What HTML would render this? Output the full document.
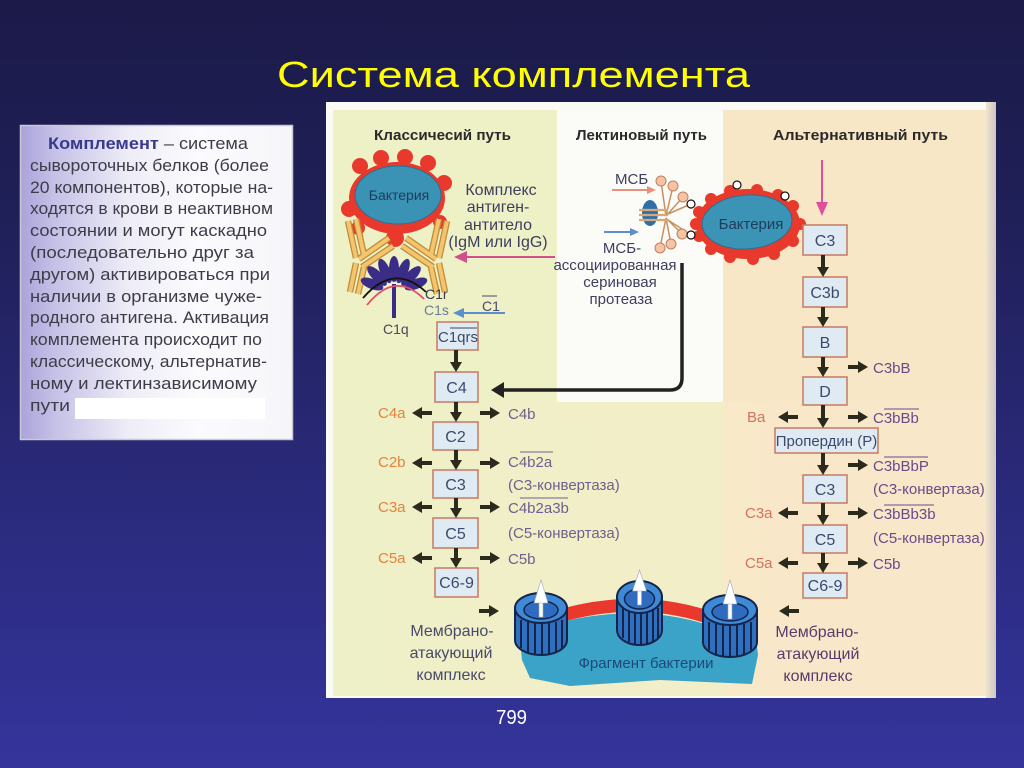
<!DOCTYPE html>
<html><head><meta charset="utf-8">
<style>
html,body{margin:0;padding:0;}
body{width:1024px;height:768px;overflow:hidden;background:linear-gradient(to bottom,#1b1a48 0%,#20205a 30%,#2a2a7c 65%,#34349c 100%);}
svg{display:block;font-family:"Liberation Sans","DejaVu Sans",sans-serif;}
</style></head><body>
<svg width="1024" height="768" viewBox="0 0 1024 768" xmlns="http://www.w3.org/2000/svg">
<defs>
<linearGradient id="boxg" x1="0" y1="0" x2="1" y2="0">
<stop offset="0" stop-color="#aaa2da"/><stop offset="0.12" stop-color="#c4bfe6"/><stop offset="0.4" stop-color="#eeedf7"/><stop offset="0.65" stop-color="#fbfbfd"/><stop offset="1" stop-color="#f6f6fa"/>
</linearGradient>
<linearGradient id="botg" x1="0" y1="0" x2="1" y2="0">
<stop offset="0" stop-color="#eef0c8"/><stop offset="0.55" stop-color="#f2eec8"/><stop offset="1" stop-color="#f8e8c8"/>
</linearGradient>
<linearGradient id="edge" x1="0" y1="0" x2="1" y2="0">
<stop offset="0" stop-color="#efe4cc"/><stop offset="1" stop-color="#cfc6c4"/>
</linearGradient>
</defs>

<!-- Title -->
<text x="277" y="87" font-size="36" fill="#ffff00" textLength="473" lengthAdjust="spacingAndGlyphs">Система комплемента</text>

<!-- Left text box -->
<rect x="20" y="125" width="273" height="315" fill="url(#boxg)"/>
<rect x="20.5" y="125.5" width="272" height="314" fill="none" stroke="#c9c9d4" stroke-width="1.5"/>
<rect x="75" y="398" width="190" height="21" fill="#ffffff"/>
<g font-size="17" fill="#3d3d48">
<text x="48" y="149" textLength="200" lengthAdjust="spacingAndGlyphs"><tspan font-weight="bold" fill="#3a3a8c">Комплемент</tspan> – система</text>
<text x="30" y="171" textLength="239" lengthAdjust="spacingAndGlyphs">сывороточных белков (более</text>
<text x="30" y="193" textLength="243" lengthAdjust="spacingAndGlyphs">20 компонентов), которые на-</text>
<text x="30" y="214" textLength="243" lengthAdjust="spacingAndGlyphs">ходятся в крови в неактивном</text>
<text x="30" y="236" textLength="237" lengthAdjust="spacingAndGlyphs">состоянии и могут каскадно</text>
<text x="30" y="258" textLength="224" lengthAdjust="spacingAndGlyphs">(последовательно друг за</text>
<text x="30" y="280" textLength="240" lengthAdjust="spacingAndGlyphs">другом) активироваться при</text>
<text x="30" y="302" textLength="232" lengthAdjust="spacingAndGlyphs">наличии в организме чуже-</text>
<text x="30" y="323" textLength="239" lengthAdjust="spacingAndGlyphs">родного антигена. Активация</text>
<text x="30" y="345" textLength="232" lengthAdjust="spacingAndGlyphs">комплемента происходит по</text>
<text x="30" y="367" textLength="237" lengthAdjust="spacingAndGlyphs">классическому, альтернатив-</text>
<text x="30" y="389" textLength="227" lengthAdjust="spacingAndGlyphs">ному и лектинзависимому</text>
<text x="30" y="411" textLength="40" lengthAdjust="spacingAndGlyphs">пути</text>
</g>

<!-- Diagram background -->
<rect x="326" y="102" width="670" height="596" fill="#fbfbf6"/>
<rect x="333" y="110" width="224" height="292" fill="#eef0c6"/>
<rect x="557" y="110" width="166" height="292" fill="#fbfbf7"/>
<rect x="723" y="110" width="263" height="292" fill="#f8e7c6"/>
<rect x="333" y="402" width="653" height="294" fill="url(#botg)"/>
<rect x="723" y="402" width="263" height="294" fill="#f8e8c9" opacity="0.85"/>
<rect x="986" y="102" width="10" height="596" fill="url(#edge)"/>

<!-- Headers -->
<g font-size="15" font-weight="bold" fill="#2a2a2a">
<text x="374" y="140" textLength="137" lengthAdjust="spacingAndGlyphs">Классичесий путь</text>
<text x="576" y="140" textLength="131" lengthAdjust="spacingAndGlyphs">Лектиновый путь</text>
<text x="773" y="140" textLength="175" lengthAdjust="spacingAndGlyphs">Альтернативный путь</text>
</g>

<!-- Classical bacterium -->
<g>
<ellipse cx="397" cy="198" rx="48" ry="36" fill="#e8392c"/>
<g fill="#e8392c">
<circle cx="360" cy="166" r="8"/><circle cx="381" cy="158" r="8"/><circle cx="405" cy="157" r="8"/><circle cx="428" cy="163" r="8"/><circle cx="444" cy="183" r="8"/><circle cx="349" cy="209" r="8"/><circle cx="358" cy="228" r="7"/><circle cx="395" cy="238" r="9"/><circle cx="440" cy="222" r="7"/>
</g>
<ellipse cx="398" cy="195" rx="43" ry="29" fill="#3a92b5" stroke="#2a6f92" stroke-width="1"/>
<text x="399" y="200" font-size="14" fill="#1d3d5a" text-anchor="middle">Бактерия</text>
</g>

<!-- Antibodies -->
<g stroke-linecap="butt">
<g stroke="#c08a3a" stroke-width="6.5">
<line x1="348" y1="221" x2="356" y2="258"/><line x1="356" y1="219" x2="364" y2="255"/>
<line x1="359" y1="259" x2="389" y2="238"/><line x1="362" y1="267" x2="393" y2="246"/>
<line x1="356" y1="263" x2="350" y2="292"/><line x1="364" y1="267" x2="358" y2="294"/>
<line x1="447" y1="221" x2="439" y2="258"/><line x1="439" y1="219" x2="431" y2="255"/>
<line x1="436" y1="259" x2="406" y2="238"/><line x1="433" y1="267" x2="402" y2="246"/>
<line x1="439" y1="263" x2="445" y2="292"/><line x1="431" y1="267" x2="437" y2="294"/>
</g>
<g stroke="#f3c56c" stroke-width="4">
<line x1="348" y1="221" x2="356" y2="258"/><line x1="356" y1="219" x2="364" y2="255"/>
<line x1="359" y1="259" x2="389" y2="238"/><line x1="362" y1="267" x2="393" y2="246"/>
<line x1="356" y1="263" x2="350" y2="292"/><line x1="364" y1="267" x2="358" y2="294"/>
<line x1="447" y1="221" x2="439" y2="258"/><line x1="439" y1="219" x2="431" y2="255"/>
<line x1="436" y1="259" x2="406" y2="238"/><line x1="433" y1="267" x2="402" y2="246"/>
<line x1="439" y1="263" x2="445" y2="292"/><line x1="431" y1="267" x2="437" y2="294"/>
</g>
</g>

<!-- C1 complex -->
<g fill="#3b2d86">
<ellipse cx="394" cy="269" rx="5" ry="13"/>
<ellipse cx="385" cy="271" rx="5" ry="13" transform="rotate(-23 385 271)"/>
<ellipse cx="403" cy="271" rx="5" ry="13" transform="rotate(23 403 271)"/>
<ellipse cx="377" cy="276" rx="5" ry="13" transform="rotate(-45 377 276)"/>
<ellipse cx="411" cy="276" rx="5" ry="13" transform="rotate(45 411 276)"/>
<ellipse cx="372" cy="284" rx="5" ry="12" transform="rotate(-68 372 284)"/>
<ellipse cx="416" cy="284" rx="5" ry="12" transform="rotate(68 416 284)"/>
<rect x="392" y="284" width="4" height="34"/>
</g>
<path d="M363,298 Q394,262 426,292" fill="none" stroke="#111" stroke-width="1.8"/>
<path d="M367,305 Q395,270 424,299" fill="none" stroke="#e0506a" stroke-width="1.8"/>
<g font-size="14">
<text x="425" y="299" fill="#3a3a4a">C1r</text>
<text x="424" y="315" fill="#6a7d9a">C1s</text>
<text x="383" y="334" fill="#4a4a5a">C1q</text>
</g>
<text x="482" y="311" font-size="14" fill="#4a4a6a">C1</text>
<line x1="482" y1="296" x2="497" y2="296" stroke="#4a4a6a" stroke-width="1"/>
<!-- blue arrow C1 -->
<line x1="505" y1="313" x2="462" y2="313" stroke="#5b8fd0" stroke-width="2"/>
<polygon points="464,308 464,318 453,313" fill="#5b8fd0"/>
<!-- pink arrow -->
<line x1="555" y1="257" x2="465" y2="257" stroke="#d0508a" stroke-width="2"/>
<polygon points="467,251 467,263 454,257" fill="#d0508a"/>

<!-- Complex label -->
<g font-size="16" fill="#3e3e5e" text-anchor="middle">
<text x="501" y="195">Комплекс</text>
<text x="498" y="212">антиген-</text>
<text x="498" y="230">антитело</text>
<text x="498" y="247">(IgM или IgG)</text>
</g>

<!-- Lectin -->
<g font-size="15" fill="#3e3e5e">
<text x="615" y="184">МСБ</text>
<text x="622" y="253" text-anchor="middle">МСБ-</text>
<text x="615" y="270" text-anchor="middle">ассоциированная</text>
<text x="620" y="287" text-anchor="middle">сериновая</text>
<text x="621" y="304" text-anchor="middle">протеаза</text>
</g>
<line x1="612" y1="190" x2="648" y2="190" stroke="#e8907c" stroke-width="2"/>
<polygon points="647,186 647,194 656,190" fill="#e8907c"/>
<line x1="604" y1="232" x2="631" y2="232" stroke="#5b8fd0" stroke-width="2"/>
<polygon points="630,228 630,236 639,232" fill="#5b8fd0"/>
<!-- MBL -->
<g stroke="#c89060" stroke-width="1.5">
<line x1="666" y1="216" x2="661" y2="181"/><line x1="666" y1="216" x2="673" y2="186"/><line x1="666" y1="216" x2="683" y2="197"/>
<line x1="666" y1="218" x2="682" y2="234"/><line x1="666" y1="218" x2="671" y2="244"/><line x1="666" y1="218" x2="660" y2="248"/>
<line x1="668" y1="214" x2="691" y2="204"/><line x1="668" y1="220" x2="691" y2="235"/>
</g>
<ellipse cx="650" cy="213" rx="8" ry="13" fill="#2f6fa8"/>
<g stroke="#d8a878" stroke-width="2.2">
<line x1="639" y1="210" x2="668" y2="210"/><line x1="639" y1="215" x2="668" y2="215"/><line x1="639" y1="220" x2="668" y2="220"/>
</g>
<g fill="#f4c4a4" stroke="#c08060" stroke-width="1">
<circle cx="661" cy="181" r="5"/><circle cx="673" cy="186" r="5"/><circle cx="683" cy="197" r="5"/>
<circle cx="682" cy="234" r="5"/><circle cx="671" cy="244" r="5"/><circle cx="660" cy="248" r="5"/>
</g>
<!-- Lectin bacterium -->
<ellipse cx="748" cy="224" rx="52" ry="35" fill="#e8392c"/>
<g fill="#e8392c">
<circle cx="696" cy="224" r="6"/><circle cx="699" cy="212" r="6"/><circle cx="711" cy="199" r="6"/><circle cx="730" cy="191" r="6"/><circle cx="757" cy="190" r="6"/><circle cx="778" cy="195" r="6"/><circle cx="793" cy="206" r="6"/><circle cx="800" cy="224" r="6"/><circle cx="793" cy="241" r="6"/><circle cx="774" cy="254" r="6"/><circle cx="753" cy="259" r="6"/><circle cx="730" cy="257" r="6"/><circle cx="711" cy="249" r="6"/><circle cx="699" cy="236" r="6"/>
</g>
<ellipse cx="747" cy="222" rx="45" ry="27" fill="#3b93b6" stroke="#2a6f90" stroke-width="1" transform="rotate(-4 747 222)"/>
<text x="751" y="229" font-size="15" fill="#1d3d5a" text-anchor="middle">Бактерия</text>
<g fill="#ffffff" stroke="#111" stroke-width="1.2">
<circle cx="691" cy="204" r="4"/><circle cx="691" cy="235" r="4"/><circle cx="737" cy="185" r="4"/><circle cx="785" cy="196" r="4"/>
</g>

<!-- Lectin connector -->
<path d="M682,263 L682,378 Q682,390 670,390 L502,390" fill="none" stroke="#222" stroke-width="3.5"/>
<polygon points="504,382 504,398 491,390" fill="#222"/>

<!-- Boxes -->
<g fill="#dfeaf3" stroke="#c57a62" stroke-width="1.5">
<rect x="437" y="322" width="41" height="28"/>
<rect x="435" y="372" width="43" height="30"/>
<rect x="433" y="422" width="45" height="28"/>
<rect x="433" y="470" width="45" height="28"/>
<rect x="433" y="518" width="45" height="30"/>
<rect x="435" y="568" width="43" height="29"/>
<rect x="803" y="225" width="44" height="30"/>
<rect x="803" y="277" width="44" height="30"/>
<rect x="803" y="327" width="44" height="30"/>
<rect x="803" y="377" width="44" height="28"/>
<rect x="775" y="428" width="103" height="25"/>
<rect x="803" y="475" width="44" height="28"/>
<rect x="803" y="525" width="44" height="28"/>
<rect x="803" y="573" width="44" height="25"/>
</g>
<g font-size="16" fill="#3a4a6e" text-anchor="middle">
<text x="458" y="342" font-size="15">C1qrs</text>
<text x="456.5" y="393">C4</text>
<text x="455.5" y="442">C2</text>
<text x="455.5" y="490">C3</text>
<text x="455.5" y="539">C5</text>
<text x="456.5" y="588">C6-9</text>
<text x="825" y="246">C3</text>
<text x="825" y="298">C3b</text>
<text x="825" y="348">B</text>
<text x="825" y="397">D</text>
<text x="826.5" y="446" font-size="15">Пропердин (P)</text>
<text x="825" y="495">C3</text>
<text x="825" y="545">C5</text>
<text x="825" y="591">C6-9</text>
</g>
<line x1="450" y1="328" x2="477" y2="328" stroke="#3a4a6e" stroke-width="1"/>

<!-- Vertical arrows -->
<g fill="#2b2a1c">
<rect x="454" y="350" width="4" height="13"/><polygon points="450,362 462,362 456,372"/>
<rect x="454" y="402" width="4" height="11"/><polygon points="450,412 462,412 456,422"/>
<rect x="454" y="450" width="4" height="11"/><polygon points="450,460 462,460 456,470"/>
<rect x="454" y="498" width="4" height="11"/><polygon points="450,508 462,508 456,518"/>
<rect x="454" y="548" width="4" height="11"/><polygon points="450,558 462,558 456,568"/>

<rect x="821" y="255" width="4" height="13"/><polygon points="817,267 829,267 823,277"/>
<rect x="821" y="307" width="4" height="11"/><polygon points="817,317 829,317 823,327"/>
<rect x="821" y="357" width="4" height="11"/><polygon points="817,367 829,367 823,377"/>
<rect x="821" y="405" width="4" height="14"/><polygon points="817,418 829,418 823,428"/>
<rect x="821" y="453" width="4" height="13"/><polygon points="817,465 829,465 823,475"/>
<rect x="821" y="503" width="4" height="13"/><polygon points="817,515 829,515 823,525"/>
<rect x="821" y="553" width="4" height="11"/><polygon points="817,563 829,563 823,573"/>

<!-- classical side arrows -->
<rect x="421" y="411" width="11" height="4"/><polygon points="422,407 422,419 412,413"/>
<rect x="480" y="411" width="11" height="4"/><polygon points="490,407 490,419 500,413"/>
<rect x="421" y="461" width="11" height="4"/><polygon points="422,457 422,469 412,463"/>
<rect x="480" y="461" width="11" height="4"/><polygon points="490,457 490,469 500,463"/>
<rect x="421" y="505" width="11" height="4"/><polygon points="422,501 422,513 412,507"/>
<rect x="480" y="505" width="11" height="4"/><polygon points="490,501 490,513 500,507"/>
<rect x="421" y="556" width="11" height="4"/><polygon points="422,552 422,564 412,558"/>
<rect x="480" y="556" width="11" height="4"/><polygon points="490,552 490,564 500,558"/>

<!-- alt side arrows -->
<rect x="848" y="365" width="11" height="4"/><polygon points="858,361 858,373 868,367"/>
<rect x="787" y="415" width="11" height="4"/><polygon points="788,411 788,423 778,417"/>
<rect x="848" y="415" width="11" height="4"/><polygon points="858,411 858,423 868,417"/>
<rect x="848" y="463" width="11" height="4"/><polygon points="858,459 858,471 868,465"/>
<rect x="787" y="511" width="11" height="4"/><polygon points="788,507 788,519 778,513"/>
<rect x="848" y="511" width="11" height="4"/><polygon points="858,507 858,519 868,513"/>
<rect x="787" y="561" width="11" height="4"/><polygon points="788,557 788,569 778,563"/>
<rect x="848" y="561" width="11" height="4"/><polygon points="858,557 858,569 868,563"/>

<!-- MAC arrows -->
<rect x="479" y="609" width="11" height="4"/><polygon points="489,605 489,617 499,611"/>
<rect x="788" y="609" width="11" height="4"/><polygon points="789,605 789,617 779,611"/>
</g>

<!-- alt pink arrow -->
<line x1="822" y1="160" x2="822" y2="204" stroke="#e0509a" stroke-width="2"/>
<polygon points="816,202 828,202 822,216" fill="#e0509a"/>

<!-- classical side labels -->
<g font-size="15">
<g fill="#e5823c">
<text x="378" y="418">C4a</text>
<text x="378" y="467">C2b</text>
<text x="378" y="512">C3a</text>
<text x="378" y="563">C5a</text>
</g>
<g fill="#6d5f8f">
<text x="508" y="419">C4b</text>
<text x="508" y="467">C4b2a</text>
<text x="508" y="490">(C3-конвертаза)</text>
<text x="508" y="513">C4b2a3b</text>
<text x="508" y="538">(C5-конвертаза)</text>
<text x="508" y="564">C5b</text>
</g>
<g stroke="#6d5f8f" stroke-width="1">
<line x1="520" y1="452" x2="553" y2="452"/>
<line x1="520" y1="498" x2="568" y2="498"/>
</g>
<g fill="#d87060">
<text x="747" y="422">Ba</text>
<text x="745" y="518">C3a</text>
<text x="745" y="568">C5a</text>
</g>
<g fill="#6a4a8a">
<text x="873" y="373">C3bB</text>
<text x="873" y="423">C3bBb</text>
<text x="873" y="471">C3bBbP</text>
<text x="873" y="494">(C3-конвертаза)</text>
<text x="873" y="519">C3bBb3b</text>
<text x="873" y="543">(C5-конвертаза)</text>
<text x="873" y="569">C5b</text>
</g>
<g stroke="#6a4a8a" stroke-width="1">
<line x1="884" y1="409" x2="919" y2="409"/>
<line x1="884" y1="457" x2="928" y2="457"/>
<line x1="884" y1="505" x2="934" y2="505"/>
</g>
</g>

<!-- Bacterial fragment -->
<path d="M520,640 L524,624 L565,621 Q640,604 705,624 L755,629 L758,655 L752,684 L660,680 L570,686 L530,678 L522,660 Z" fill="#3ba2c8"/>
<path d="M556,617 Q640,592 716,620" fill="none" stroke="#e8392c" stroke-width="13"/>
<text x="646" y="668" font-size="15" fill="#1a4a7a" text-anchor="middle">Фрагмент бактерии</text>

<!-- MAC cylinders -->
<g stroke="#14244a">
<!-- left -->
<path d="M515,608 L515,640 A26,15 0 0 0 567,640 L567,608 Z" fill="#2f6fc0" stroke-width="2"/>
<g stroke-width="2"><line x1="521" y1="620" x2="521" y2="648"/><line x1="528" y1="622" x2="528" y2="652"/><line x1="535" y1="623" x2="535" y2="654"/><line x1="542" y1="623" x2="542" y2="655"/><line x1="549" y1="623" x2="549" y2="654"/><line x1="556" y1="622" x2="556" y2="652"/><line x1="562" y1="620" x2="562" y2="648"/></g>
<ellipse cx="541" cy="608" rx="26" ry="15" fill="#3e8ad6" stroke-width="2"/>
<ellipse cx="541" cy="610" rx="17" ry="9" fill="#2f6cc0" stroke-width="1.5"/>
<!-- middle -->
<path d="M617,597 L617,630 A22.5,15 0 0 0 662,630 L662,597 Z" fill="#2f6fc0" stroke-width="2"/>
<g stroke-width="2"><line x1="623" y1="608" x2="623" y2="638"/><line x1="629" y1="610" x2="629" y2="642"/><line x1="635" y1="611" x2="635" y2="644"/><line x1="641" y1="611" x2="641" y2="645"/><line x1="647" y1="611" x2="647" y2="644"/><line x1="653" y1="610" x2="653" y2="642"/><line x1="658" y1="608" x2="658" y2="638"/></g>
<ellipse cx="639.5" cy="597" rx="22.5" ry="16" fill="#3e8ad6" stroke-width="2"/>
<ellipse cx="639.5" cy="599" rx="15" ry="10" fill="#2f6cc0" stroke-width="1.5"/>
<!-- right -->
<path d="M703,610 L703,642 A27,15 0 0 0 757,642 L757,610 Z" fill="#2f6fc0" stroke-width="2"/>
<g stroke-width="2"><line x1="709" y1="622" x2="709" y2="650"/><line x1="716" y1="624" x2="716" y2="654"/><line x1="723" y1="625" x2="723" y2="656"/><line x1="730" y1="625" x2="730" y2="657"/><line x1="737" y1="625" x2="737" y2="656"/><line x1="744" y1="624" x2="744" y2="654"/><line x1="751" y1="622" x2="751" y2="650"/></g>
<ellipse cx="730" cy="610" rx="27" ry="15" fill="#3e8ad6" stroke-width="2"/>
<ellipse cx="730" cy="612" rx="18" ry="9" fill="#2f6cc0" stroke-width="1.5"/>
</g>
<g fill="#ffffff" stroke="#9aa8c0" stroke-width="0.6">
<rect x="539" y="600" width="4" height="17"/><polygon points="534,603 548,603 541,580"/>
<rect x="637.5" y="588" width="4" height="17"/><polygon points="632.5,591 646.5,591 639.5,570"/>
<rect x="728" y="601" width="4" height="18"/><polygon points="723,604 737,604 730,580"/>
</g>

<!-- MAC labels -->
<g font-size="16" text-anchor="middle">
<g fill="#4a4a6a">
<text x="452" y="636">Мембрано-</text>
<text x="451" y="658">атакующий</text>
<text x="451" y="680">комплекс</text>
</g>
<g fill="#5a3a6a">
<text x="817" y="637">Мембрано-</text>
<text x="818" y="659">атакующий</text>
<text x="818" y="681">комплекс</text>
</g>
</g>

<!-- page number -->
<text x="496" y="724" font-size="20" fill="#ffffff" textLength="31" lengthAdjust="spacingAndGlyphs">799</text>
</svg>
</body></html>
